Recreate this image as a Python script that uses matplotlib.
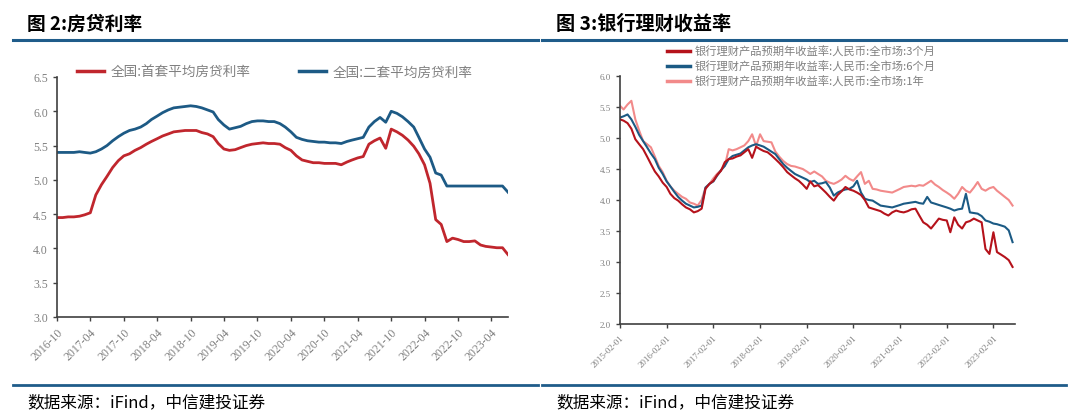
import matplotlib
matplotlib.use("Agg")
import matplotlib.pyplot as plt
import matplotlib.dates as mdates
from matplotlib.lines import Line2D
import pandas as pd

plt.rcParams['font.family'] = ['Noto Sans CJK SC', 'DejaVu Sans']

# ---- data: mortgage rates (monthly, 2016-10 .. 2023-07) ----
mort_dates = pd.date_range('2016-10-01', periods=82, freq='MS')
first_home = [4.45, 4.45, 4.46, 4.46, 4.47, 4.49, 4.52, 4.78, 4.93, 5.05,
              5.18, 5.28, 5.35, 5.38, 5.43, 5.47, 5.52, 5.56, 5.60, 5.64,
              5.67, 5.70, 5.71, 5.72, 5.72, 5.72, 5.69, 5.67, 5.63, 5.53,
              5.45, 5.43, 5.44, 5.47, 5.50, 5.52, 5.53, 5.54, 5.53, 5.53,
              5.52, 5.47, 5.43, 5.35, 5.29, 5.27, 5.25, 5.25, 5.24, 5.24,
              5.24, 5.22, 5.26, 5.29, 5.32, 5.34, 5.52, 5.57, 5.61, 5.46,
              5.74, 5.70, 5.65, 5.58, 5.49, 5.38, 5.22, 4.95, 4.42, 4.35,
              4.10, 4.15, 4.13, 4.10, 4.10, 4.11, 4.05, 4.03, 4.02, 4.01,
              4.01, 3.91]
second_home = [5.40, 5.40, 5.40, 5.40, 5.41, 5.40, 5.39, 5.41, 5.45, 5.50,
               5.57, 5.63, 5.68, 5.72, 5.74, 5.77, 5.82, 5.88, 5.93, 5.98,
               6.02, 6.05, 6.06, 6.07, 6.08, 6.07, 6.05, 6.02, 5.99, 5.88,
               5.80, 5.74, 5.76, 5.78, 5.82, 5.85, 5.86, 5.86, 5.85, 5.85,
               5.82, 5.77, 5.70, 5.62, 5.59, 5.57, 5.56, 5.55, 5.55, 5.54,
               5.54, 5.53, 5.56, 5.58, 5.60, 5.62, 5.77, 5.85, 5.91, 5.84,
               6.00, 5.97, 5.92, 5.85, 5.77, 5.62, 5.45, 5.33, 5.10, 5.07,
               4.91, 4.91, 4.91, 4.91, 4.91, 4.91, 4.91, 4.91, 4.91, 4.91,
               4.91, 4.82]

# ---- data: bank WMP expected yields (monthly, 2015-02 .. 2023-07) ----
wmp_dates = pd.date_range('2015-02-01', periods=102, freq='MS')
wmp_3m = [5.30, 5.28, 5.24, 5.15, 4.98, 4.90, 4.82, 4.70, 4.58, 4.46,
          4.38, 4.28, 4.21, 4.10, 4.03, 3.99, 3.93, 3.88, 3.85, 3.80,
          3.82, 3.86, 4.18, 4.26, 4.31, 4.40, 4.47, 4.61, 4.66, 4.67,
          4.70, 4.72, 4.77, 4.82, 4.68, 4.86, 4.82, 4.79, 4.77, 4.72,
          4.66, 4.60, 4.53, 4.45, 4.40, 4.35, 4.31, 4.25, 4.18, 4.30,
          4.22, 4.24, 4.18, 4.12, 4.05, 3.99, 4.08, 4.14, 4.21, 4.17,
          4.15, 4.12, 4.08, 4.00, 3.88, 3.86, 3.84, 3.82, 3.78, 3.75,
          3.80, 3.83, 3.81, 3.80, 3.82, 3.85, 3.86, 3.75, 3.64, 3.60,
          3.54, 3.62, 3.70, 3.68, 3.67, 3.48, 3.72, 3.60, 3.54, 3.64,
          3.66, 3.70, 3.67, 3.64, 3.21, 3.13, 3.48, 3.16, 3.12, 3.08,
          3.03, 2.92]
wmp_6m = [5.33, 5.35, 5.38, 5.30, 5.18, 5.05, 4.95, 4.85, 4.75, 4.66,
          4.52, 4.42, 4.30, 4.22, 4.13, 4.05, 3.99, 3.94, 3.91, 3.88,
          3.89, 3.91, 4.20, 4.26, 4.30, 4.39, 4.48, 4.55, 4.66, 4.71,
          4.73, 4.75, 4.80, 4.85, 4.88, 4.90, 4.88, 4.86, 4.82, 4.78,
          4.74, 4.66, 4.58, 4.52, 4.47, 4.42, 4.39, 4.36, 4.33, 4.29,
          4.31, 4.26, 4.27, 4.29, 4.20, 4.07, 4.12, 4.15, 4.17, 4.18,
          4.22, 4.31, 4.12, 4.02, 4.00, 3.99, 3.95, 3.91, 3.90, 3.89,
          3.88, 3.90, 3.92, 3.94, 3.95, 3.96, 3.97, 3.95, 3.94, 4.05,
          3.96, 3.94, 3.92, 3.90, 3.88, 3.86, 3.83, 3.85, 3.86, 4.10,
          3.80, 3.79, 3.78, 3.74, 3.67, 3.65, 3.62, 3.61, 3.59, 3.57,
          3.51, 3.32]
wmp_1y = [5.52, 5.46, 5.54, 5.60, 5.30, 5.12, 4.95, 4.90, 4.85, 4.70,
          4.55, 4.45, 4.31, 4.22, 4.15, 4.10, 4.05, 4.02, 3.96, 3.94,
          3.91, 4.00, 4.20, 4.26, 4.35, 4.42, 4.48, 4.55, 4.82, 4.80,
          4.82, 4.85, 4.88, 4.95, 5.06, 4.87, 5.06, 4.95, 4.94, 4.93,
          4.78, 4.70, 4.63, 4.58, 4.55, 4.54, 4.52, 4.50, 4.46, 4.42,
          4.46, 4.42, 4.38, 4.31, 4.28, 4.26, 4.29, 4.33, 4.39, 4.34,
          4.31, 4.38, 4.45, 4.26, 4.31, 4.18, 4.17, 4.15, 4.14, 4.13,
          4.12, 4.15, 4.18, 4.21, 4.22, 4.23, 4.22, 4.24, 4.23, 4.27,
          4.31, 4.25, 4.21, 4.16, 4.12, 4.08, 4.02, 4.10, 4.21, 4.15,
          4.12, 4.20, 4.29, 4.18, 4.15, 4.19, 4.21, 4.15, 4.10, 4.05,
          4.00, 3.91]

RULE = '#1F5C8A'
TICK_C = '#808080'
SPINE_C = '#404040'
W, H = 1080, 414

fig = plt.figure(figsize=(10.8, 4.14), dpi=100)


def fx(px):
    return px / W


def fy(py):
    return 1 - py / H


def style_axes(ax, size):
    for s in ['top', 'right']:
        ax.spines[s].set_visible(False)
    for s in ['left', 'bottom']:
        ax.spines[s].set_color(SPINE_C)
        ax.spines[s].set_linewidth(1.2)
    ax.tick_params(axis='both', direction='out', length=3, width=1,
                   color=SPINE_C, labelcolor=TICK_C, labelsize=size)
    for lab in ax.get_xticklabels() + ax.get_yticklabels():
        lab.set_family('Liberation Serif')
    for lab in ax.get_xticklabels():
        lab.set_rotation(45)
        lab.set_ha('right')
        lab.set_rotation_mode('anchor')


# --- left chart ---
ax1 = fig.add_axes([fx(57), fy(318), fx(508 - 57), (318 - 78) / H])
ax1.plot(mort_dates, first_home, color='#C0262D', lw=2.0)
ax1.plot(mort_dates, second_home, color='#1D5A85', lw=2.0)
ax1.set_ylim(3.0, 6.5)
ax1.set_yticks([3.0, 3.5, 4.0, 4.5, 5.0, 5.5, 6.0, 6.5])
ax1.yaxis.set_major_formatter(plt.FormatStrFormatter('%.1f'))
ax1.set_xlim(mort_dates[0], mort_dates[-1])
ax1.xaxis.set_major_locator(mdates.MonthLocator(bymonth=[4, 10]))
ax1.xaxis.set_major_formatter(mdates.DateFormatter('%Y-%m'))
style_axes(ax1, 8.5)

h1 = [Line2D([], [], color='#C0262D', lw=2.5), Line2D([], [], color='#1D5A85', lw=2.5)]
fig.legend(h1, ['全国:首套平均房贷利率', '全国:二套平均房贷利率'], ncol=2,
           loc='center left', bbox_to_anchor=(fx(77), fy(73)), frameon=False,
           fontsize=9.8, labelcolor=TICK_C, handlelength=2.0, handletextpad=0.5,
           columnspacing=3.5, borderpad=0, borderaxespad=0)

# --- right chart ---
ax2 = fig.add_axes([fx(620), fy(325), fx(1015 - 620), (325 - 77) / H])
ax2.plot(wmp_dates, wmp_1y, color='#F28A8A', lw=1.5)
ax2.plot(wmp_dates, wmp_6m, color='#1B5A84', lw=1.5)
ax2.plot(wmp_dates, wmp_3m, color='#B5121B', lw=1.5)
ax2.set_ylim(2.0, 6.0)
ax2.set_yticks([2.0, 2.5, 3.0, 3.5, 4.0, 4.5, 5.0, 5.5, 6.0])
ax2.yaxis.set_major_formatter(plt.FormatStrFormatter('%.1f'))
ax2.set_xlim(wmp_dates[0], pd.Timestamp('2023-07-20'))
ax2.xaxis.set_major_locator(mdates.MonthLocator(bymonth=[2], bymonthday=1))
ax2.xaxis.set_major_formatter(mdates.DateFormatter('%Y-%m-%d'))
style_axes(ax2, 6.5)

h2 = [Line2D([], [], color='#B5121B', lw=2.5), Line2D([], [], color='#1B5A84', lw=2.5),
      Line2D([], [], color='#F28A8A', lw=2.5)]
fig.legend(h2, ['银行理财产品预期年收益率:人民币:全市场:3个月',
                '银行理财产品预期年收益率:人民币:全市场:6个月',
                '银行理财产品预期年收益率:人民币:全市场:1年'],
           loc='upper left', bbox_to_anchor=(fx(667), fy(47)), frameon=False,
           fontsize=8.1, labelcolor=TICK_C, handlelength=2.0, handletextpad=0.5,
           labelspacing=0.33, borderpad=0, borderaxespad=0)

# --- titles, rules, sources ---
fig.text(fx(27), fy(24), '图 2:房贷利率', fontsize=13.5, fontweight='bold', va='center')
fig.text(fx(556), fy(24), '图 3:银行理财收益率', fontsize=13.8, fontweight='bold', va='center')
for x0, x1 in [(13, 538), (542, 1066)]:
    fig.add_artist(Line2D([fx(x0), fx(x1)], [fy(41), fy(41)], color=RULE, lw=2.2))
    fig.add_artist(Line2D([fx(x0), fx(x1)], [fy(386), fy(386)], color=RULE, lw=2.0))
fig.text(fx(27), fy(403), '数据来源：iFind，中信建投证券', fontsize=12, va='center')
fig.text(fx(556), fy(403), '数据来源：iFind，中信建投证券', fontsize=12, va='center')

fig.savefig('out.png', dpi=100)
